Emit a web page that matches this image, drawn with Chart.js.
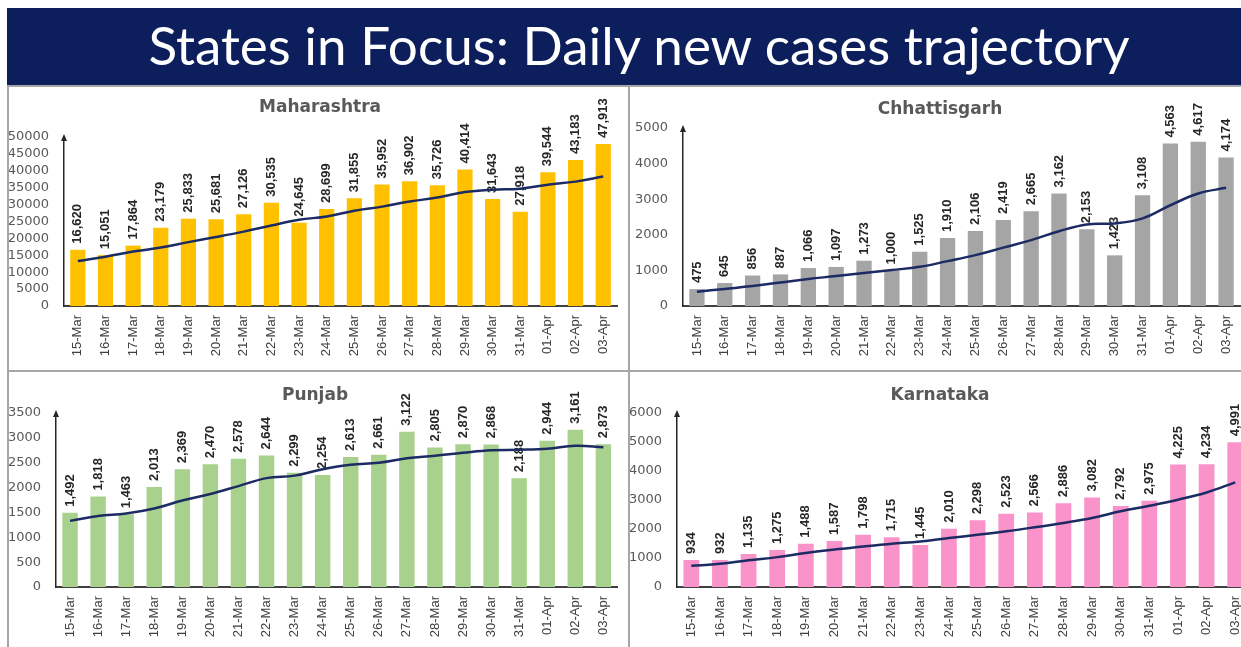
<!DOCTYPE html>
<html lang="en">
<head>
    <meta charset="UTF-8">
    <title>States in Focus: Daily new cases trajectory</title>
    <script src="https://cdn.jsdelivr.net/npm/chart.js"></script>
    <style>
        body {
            margin: 0;
            width: 1241px;
            height: 647px;
            overflow: hidden;
            background: #fff;
            position: relative;
        }
        .banner {
            position: absolute;
            left: 7px;
            top: 8px;
            width: 1204px;
            height: 77px;
            padding-left: 30px;
            background: #0c1f5c;
            color: #fff;
            font-family: Lato, "Open Sans", sans-serif;
            font-size: 53px;
            line-height: 74px;
            text-align: center;
            z-index: 3;
        }
        .panel {
            position: absolute;
            overflow: hidden;
        }
        .rule {
            position: absolute;
            background: #a6a6a6;
            z-index: 2;
        }
        .mask {
            position: absolute;
            left: 0;
            top: 0;
            width: 7px;
            height: 647px;
            background: #fff;
            z-index: 2;
        }
    </style>
</head>
<body>
    <div class="banner">States in Focus: Daily new cases trajectory</div>

    <div class="panel" style="left:0px; top:87px; width:628px; height:283px;"><canvas id="mh" width="628" height="283"></canvas></div>
    <div class="panel" style="left:630px; top:87px; width:611px; height:283px;"><canvas id="cg" width="630" height="283"></canvas></div>
    <div class="panel" style="left:0px; top:372px; width:628px; height:275px;"><canvas id="pb" width="628" height="275"></canvas></div>
    <div class="panel" style="left:630px; top:372px; width:611px; height:275px;"><canvas id="ka" width="630" height="275"></canvas></div>

    <div class="mask"></div>
    <div class="rule" style="left:7px; top:85px; width:1234px; height:2px;"></div>
    <div class="rule" style="left:7px; top:85px; width:2px; height:562px;"></div>
    <div class="rule" style="left:628px; top:85px; width:2px; height:562px;"></div>
    <div class="rule" style="left:7px; top:370px; width:1234px; height:2px;"></div>

    <script>
        // Dates shared by all four states
        const dates = ['15-Mar', '16-Mar', '17-Mar', '18-Mar', '19-Mar', '20-Mar', '21-Mar', '22-Mar', '23-Mar', '24-Mar',
            '25-Mar', '26-Mar', '27-Mar', '28-Mar', '29-Mar', '30-Mar', '31-Mar', '01-Apr', '02-Apr', '03-Apr'];

        // Daily new cases
        const maharashtra = [16620, 15051, 17864, 23179, 25833, 25681, 27126, 30535, 24645, 28699,
            31855, 35952, 36902, 35726, 40414, 31643, 27918, 39544, 43183, 47913];
        const chhattisgarh = [475, 645, 856, 887, 1066, 1097, 1273, 1000, 1525, 1910,
            2106, 2419, 2665, 3162, 2153, 1423, 3108, 4563, 4617, 4174];
        const punjab = [1492, 1818, 1463, 2013, 2369, 2470, 2578, 2644, 2299, 2254,
            2613, 2661, 3122, 2805, 2870, 2868, 2188, 2944, 3161, 2873];
        const karnataka = [934, 932, 1135, 1275, 1488, 1587, 1798, 1715, 1445, 2010,
            2298, 2523, 2566, 2886, 3082, 2792, 2975, 4225, 4234, 4991];

        // Trend lines
        const maharashtraTrend = [13300, 14600, 16100, 17300, 18900, 20400, 22000, 23800, 25500, 26500,
            28200, 29400, 30900, 32100, 33700, 34400, 34700, 35900, 36800, 38300];
        const chhattisgarhTrend = [400, 480, 560, 660, 760, 840, 930, 1010, 1100, 1260,
            1430, 1640, 1850, 2100, 2290, 2320, 2460, 2830, 3160, 3320];
        const punjabTrend = [1330, 1430, 1480, 1580, 1740, 1870, 2030, 2190, 2240, 2370,
            2460, 2500, 2590, 2640, 2700, 2750, 2760, 2780, 2840, 2810];
        const karnatakaTrend = [730, 800, 920, 1030, 1170, 1290, 1400, 1490, 1570, 1690,
            1800, 1920, 2060, 2210, 2380, 2610, 2800, 3010, 3260, 3610];

        // Bar value labels (vertical), drawn before the trend line so the line sits on top
        const barLabels = {
            id: 'barLabels',
            afterDatasetDraw(chart, args) {
                if (args.index !== 0) return;
                const ctx = chart.ctx;
                const vals = chart.data.datasets[0].data;
                ctx.save();
                ctx.font = 'bold 13px "Liberation Sans", Arial, sans-serif';
                ctx.fillStyle = '#262626';
                ctx.textAlign = 'left';
                ctx.textBaseline = 'middle';
                args.meta.data.forEach((bar, i) => {
                    ctx.setTransform(0, -1, 1, 0, bar.x, bar.y - 6);
                    ctx.fillText(vals[i].toLocaleString('en-US'), 0, 0);
                });
                ctx.setTransform(1, 0, 0, 1, 0, 0);
                ctx.restore();
            }
        };

        // Panel title and arrow head on the y axis
        const panelDecor = {
            id: 'panelDecor',
            afterDraw(chart, args, opts) {
                const ctx = chart.ctx;
                const area = chart.chartArea;
                ctx.save();
                ctx.font = 'bold 17px "DejaVu Sans", sans-serif';
                ctx.fillStyle = '#595959';
                ctx.textAlign = 'center';
                ctx.textBaseline = 'middle';
                ctx.fillText(opts.title, opts.titleX, opts.titleY);
                ctx.fillStyle = '#262626';
                ctx.beginPath();
                ctx.moveTo(area.left, area.top - 3);
                ctx.lineTo(area.left - 3, area.top + 4);
                ctx.lineTo(area.left + 3, area.top + 4);
                ctx.closePath();
                ctx.fill();
                ctx.restore();
            }
        };

        function makeChart(id, title, values, trend, color, yMax, yStep, geo) {
            const canvas = document.getElementById(id);
            return new Chart(canvas.getContext('2d'), {
                type: 'bar',
                data: {
                    labels: dates,
                    datasets: [
                        {
                            type: 'bar',
                            data: values,
                            backgroundColor: color,
                            barPercentage: 0.55,
                            categoryPercentage: 1,
                            order: 1
                        },
                        {
                            type: 'line',
                            data: trend,
                            borderColor: '#1c2b63',
                            borderWidth: 2.5,
                            pointRadius: 0,
                            tension: 0.4,
                            order: 0
                        }
                    ]
                },
                options: {
                    responsive: false,
                    animation: false,
                    layout: {
                        padding: { top: geo.top, right: canvas.width - geo.right, left: 0, bottom: 0 }
                    },
                    plugins: {
                        legend: { display: false },
                        tooltip: { enabled: false },
                        panelDecor: { title: title, titleX: geo.titleX, titleY: geo.titleY }
                    },
                    scales: {
                        x: {
                            grid: { display: false, drawTicks: false },
                            border: { color: '#404040', width: 2 },
                            ticks: {
                                autoSkip: false,
                                minRotation: 90,
                                maxRotation: 90,
                                padding: 9,
                                color: '#404040',
                                font: { family: '"Liberation Sans", Arial, sans-serif', size: 13 }
                            },
                            afterFit(scale) { scale.height = canvas.height - geo.bottom; }
                        },
                        y: {
                            min: 0,
                            max: yMax,
                            grid: { display: false, drawTicks: false },
                            border: { color: '#262626', width: 1.5 },
                            ticks: {
                                stepSize: yStep,
                                autoSkip: false,
                                padding: 15,
                                color: '#595959',
                                font: { family: '"DejaVu Sans", sans-serif', size: 13 },
                                callback: v => String(v)
                            },
                            afterFit(scale) { scale.width = geo.left; }
                        }
                    }
                },
                plugins: [barLabels, panelDecor]
            });
        }

        makeChart('mh', 'Maharashtra', maharashtra, maharashtraTrend, '#ffc000', 50000, 5000,
            { left: 64, right: 621, top: 50, bottom: 219, titleX: 320, titleY: 21 });
        makeChart('cg', 'Chhattisgarh', chhattisgarh, chhattisgarhTrend, '#a5a5a5', 5000, 1000,
            { left: 53, right: 610, top: 41, bottom: 219, titleX: 310, titleY: 23 });
        makeChart('pb', 'Punjab', punjab, punjabTrend, '#a9d18e', 3500, 500,
            { left: 56, right: 627, top: 41, bottom: 215, titleX: 315, titleY: 24 });
        makeChart('ka', 'Karnataka', karnataka, karnatakaTrend, '#f993c9', 6000, 1000,
            { left: 47, right: 623, top: 41, bottom: 215, titleX: 310, titleY: 24 });
    </script>
</body>
</html>
